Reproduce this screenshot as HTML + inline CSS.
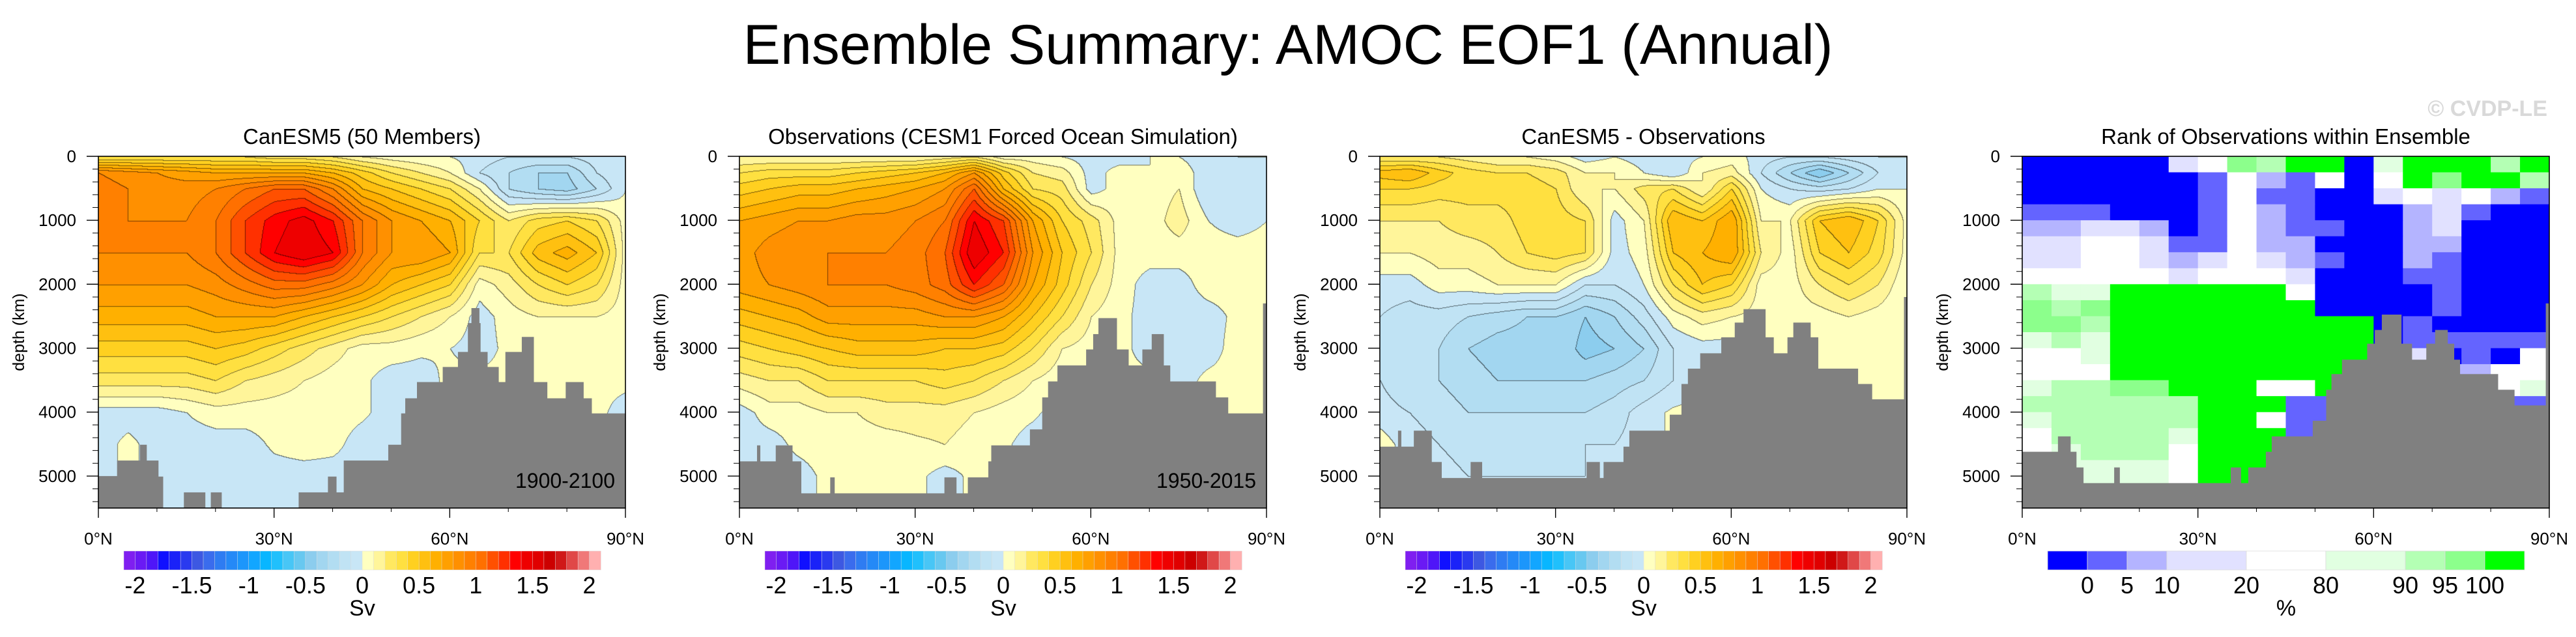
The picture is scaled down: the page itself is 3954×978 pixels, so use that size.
<!DOCTYPE html>
<html><head><meta charset="utf-8">
<style>
html,body{margin:0;padding:0;background:#fff;}
#root{position:relative;width:3954px;height:978px;overflow:hidden;font-family:"Liberation Sans",Arial,sans-serif;}
canvas{position:absolute;}
svg{position:absolute;left:0;top:0;}
</style></head>
<body>
<div id="root">
<canvas id="c0" width="809" height="540" style="left:151px;top:240px"></canvas>
<canvas id="c1" width="809" height="540" style="left:1135px;top:240px"></canvas>
<canvas id="c2" width="809" height="540" style="left:2118px;top:240px"></canvas>
<svg id="ov" width="3954" height="978" xmlns="http://www.w3.org/2000/svg">
<text x="1977" y="98" font-size="86" text-anchor="middle">Ensemble Summary: AMOC EOF1 (Annual)</text>
<text x="3910" y="178" font-size="34" font-weight="bold" fill="#d9d9d9" text-anchor="end">© CVDP-LE</text>
</svg>
</div>
<script>
// ---- grid axes ----
const lats = [0,5,10,15,20,25,30,35,40,45,50,55,60,65,70,75,80,85,90];
const depths = [0,250,500,1000,1500,2000,2500,3000,3500,4000,4500,5000,5500];
// ---- CanESM5 ensemble EOF1 (Sv) ----
const canesm = [
[0.3,0.3,0.3,0.3,0.3,0.3,0.25,0.25,0.2,0.1,0.05,0.02,0.0,-0.05,-0.1,-0.1,-0.1,-0.05,0.0],
[0.9,0.85,0.8,0.75,0.7,0.7,0.7,0.7,0.6,0.45,0.3,0.2,0.1,-0.1,-0.2,-0.3,-0.3,-0.1,0.0],
[0.95,0.9,0.85,0.85,0.9,1.0,1.1,1.1,0.9,0.6,0.5,0.4,0.3,0.1,-0.2,-0.3,-0.35,-0.2,0.0],
[0.9,0.9,0.9,0.9,1.0,1.2,1.35,1.45,1.3,1.0,0.8,0.7,0.6,0.4,0.2,0.35,0.4,0.3,0.05],
[0.9,0.9,0.9,0.9,1.0,1.2,1.4,1.5,1.4,1.0,0.8,0.8,0.7,0.3,0.3,0.55,0.65,0.5,0.05],
[0.8,0.8,0.8,0.8,0.85,0.95,1.05,1.05,0.95,0.8,0.6,0.5,0.4,0.05,0.15,0.3,0.4,0.3,0.05],
[0.65,0.65,0.65,0.65,0.7,0.7,0.7,0.6,0.5,0.4,0.3,0.2,0.1,-0.05,0.05,0.1,0.1,0.1,0.05],
[0.45,0.45,0.45,0.45,0.5,0.45,0.35,0.25,0.15,0.05,0.05,0.02,0.0,-0.05,0.03,0.05,0.05,0.05,0.05],
[0.25,0.25,0.25,0.25,0.3,0.2,0.15,0.1,0.05,0.02,-0.05,-0.05,0.03,0.03,0.03,0.03,0.03,0.03,0.03],
[-0.05,-0.05,-0.05,0.0,0.05,0.05,0.05,0.05,0.05,0.02,-0.05,-0.05,0.03,0.03,0.03,0.03,0.03,0.03,-0.05],
[-0.05,0.03,-0.05,-0.05,-0.05,-0.05,0.02,0.05,0.03,-0.05,-0.05,0.02,0.03,0.03,0.03,0.03,0.03,0.03,-0.05],
[-0.05,0.03,-0.05,-0.05,-0.05,-0.08,-0.05,-0.05,-0.05,-0.05,-0.05,0.02,0.03,0.03,0.03,0.03,0.03,0.03,-0.05],
[-0.05,0.03,-0.05,-0.05,-0.05,-0.08,-0.05,-0.05,-0.05,-0.05,-0.05,0.02,0.03,0.03,0.03,0.03,0.03,0.03,-0.05]];
// ---- Observations EOF1 (Sv) ----
const obs = [
[0.1,0.1,0.1,0.1,0.1,0.1,0.1,0.15,0.2,0.05,0.05,0.0,-0.05,-0.05,0.0,0.0,-0.05,0.0,0.0],
[0.3,0.35,0.35,0.35,0.4,0.45,0.5,0.6,0.8,0.45,0.2,0.15,-0.05,0.05,0.0,0.05,-0.05,-0.05,0.0],
[0.45,0.5,0.55,0.55,0.6,0.65,0.7,0.8,1.1,0.6,0.3,0.25,-0.05,0.05,0.05,0.1,-0.1,-0.1,0.0],
[0.7,0.75,0.8,0.8,0.85,0.85,0.9,1.0,1.4,1.2,0.7,0.4,0.25,0.05,0.05,0.15,0.0,-0.05,0.0],
[0.75,0.85,0.9,0.9,0.9,0.9,0.95,1.1,1.5,1.3,0.8,0.5,0.3,0.05,0.05,0.05,0.05,0.05,0.05],
[0.75,0.8,0.85,0.9,0.9,0.9,0.95,1.05,1.3,1.1,0.7,0.45,0.2,0.05,-0.05,-0.05,0.05,0.05,0.0],
[0.55,0.6,0.65,0.75,0.75,0.75,0.75,0.8,0.8,0.7,0.5,0.3,0.1,0.03,-0.05,-0.05,-0.05,0.03,0.0],
[0.35,0.4,0.45,0.5,0.55,0.55,0.55,0.5,0.5,0.45,0.3,0.1,0.05,0.03,-0.05,-0.05,-0.05,0.05,0.05],
[0.15,0.2,0.2,0.3,0.3,0.3,0.3,0.35,0.3,0.2,0.1,0.03,-0.05,0.03,0.03,-0.05,0.03,0.03,0.03],
[-0.05,0.05,0.05,0.1,0.1,0.15,0.15,0.15,0.1,0.05,0.02,-0.05,-0.05,0.03,0.03,0.03,0.03,0.03,0.03],
[-0.05,-0.05,0.03,0.05,0.05,0.05,0.08,0.1,0.05,0.02,-0.05,-0.05,-0.05,0.03,0.03,0.03,0.03,0.03,0.03],
[-0.05,-0.05,-0.05,0.03,0.03,0.03,0.03,-0.05,0.03,0.02,-0.05,-0.05,-0.05,0.03,0.03,0.03,0.03,0.03,0.03],
[-0.05,-0.05,-0.05,0.03,0.03,0.03,0.03,-0.05,0.03,0.02,-0.05,-0.05,-0.05,0.03,0.03,0.03,0.03,0.03,0.03]];
// ---- CanESM5 - Observations (Sv) ----
const diff = [
[0.2,0.2,0.2,0.15,0.1,0.1,0.05,-0.05,0.0,-0.05,-0.05,0.0,0.05,-0.05,-0.1,-0.1,-0.05,0.0,0.0],
[0.55,0.6,0.45,0.35,0.3,0.3,0.25,0.1,0.1,0.0,-0.1,0.1,0.15,-0.1,-0.3,-0.5,-0.3,-0.1,0.0],
[0.4,0.4,0.35,0.35,0.35,0.35,0.3,0.1,0.1,0.25,0.3,0.1,0.4,0.0,-0.1,-0.15,-0.1,0.0,0.0],
[0.2,0.2,0.2,0.25,0.25,0.35,0.35,0.3,-0.05,0.1,0.6,0.5,0.7,0.1,0.1,0.5,0.6,0.4,0.05],
[0.1,0.1,0.15,0.15,0.2,0.3,0.35,0.3,-0.05,0.05,0.5,0.6,0.7,0.2,0.05,0.4,0.5,0.35,0.05],
[-0.05,-0.05,0.05,0.05,0.1,0.1,0.1,-0.1,-0.1,0.0,0.3,0.5,0.4,0.05,0.05,0.2,0.3,0.2,0.0],
[-0.1,-0.15,-0.15,-0.2,-0.25,-0.3,-0.3,-0.4,-0.3,-0.15,0.05,0.15,0.1,0.05,0.05,0.05,0.1,0.05,0.0],
[-0.15,-0.2,-0.2,-0.3,-0.35,-0.35,-0.3,-0.45,-0.4,-0.3,-0.1,-0.05,-0.05,0.05,0.05,0.05,0.05,0.05,0.0],
[-0.1,-0.2,-0.2,-0.25,-0.3,-0.3,-0.3,-0.3,-0.25,-0.2,-0.1,-0.05,-0.05,0.05,0.05,0.05,0.05,0.03,0.0],
[-0.05,-0.1,-0.15,-0.2,-0.2,-0.2,-0.2,-0.2,-0.15,-0.05,0.02,0.05,0.05,0.05,0.05,0.05,0.05,0.03,0.0],
[0.05,-0.05,-0.1,-0.15,-0.15,-0.15,-0.15,-0.1,-0.1,-0.05,0.02,0.03,0.03,0.03,0.03,0.03,0.03,0.03,0.0],
[0.05,-0.05,-0.05,-0.1,-0.1,-0.1,-0.1,-0.1,-0.05,-0.05,0.02,0.03,0.03,0.03,0.03,0.03,0.03,0.03,0.0],
[0.05,-0.05,-0.05,-0.1,-0.1,-0.1,-0.1,-0.1,-0.05,-0.05,0.02,0.03,0.03,0.03,0.03,0.03,0.03,0.03,0.0]];
// ---- rank classes (0..8) per 5deg x 250m cell ----
const rankLatStep = 5, rankDepthStep = 250;
const rank = [
[0,0,0,0,0,3,4,7,6,8,8,0,5,8,8,8,6,8],
[0,0,0,0,0,0,1,4,2,1,4,0,4,8,7,8,8,6],
[0,0,0,0,0,0,1,4,1,1,0,0,3,4,3,4,2,1],
[1,1,1,0,0,0,1,4,2,1,0,0,0,2,3,1,0,0],
[2,2,3,3,2,0,1,4,2,1,1,0,0,2,3,0,0,0],
[3,3,4,4,3,1,1,4,2,2,0,0,0,2,2,0,0,0],
[3,3,4,4,3,2,3,4,3,2,1,0,0,2,1,0,0,0],
[4,4,4,4,4,3,4,4,4,3,0,0,0,1,1,0,0,0],
[6,5,5,8,8,8,8,8,8,4,0,0,0,0,1,0,0,0],
[7,6,7,8,8,8,8,8,8,8,0,0,0,0,1,0,0,0],
[7,7,6,8,8,8,8,8,8,8,8,8,0,1,0,0,0,0],
[5,6,5,8,8,8,8,8,8,8,8,8,0,1,1,1,1,1],
[4,4,5,8,8,8,8,8,8,8,8,8,0,3,0,1,0,4],
[4,4,4,8,8,8,8,8,8,8,8,8,8,8,2,2,4,4],
[5,6,6,7,7,8,8,8,4,4,8,8,8,8,8,8,4,5],
[6,6,6,6,6,6,8,8,8,1,1,1,1,1,1,1,1,1],
[5,6,6,6,6,6,8,8,4,1,1,1,1,1,1,1,1,1],
[4,6,6,6,6,5,8,8,8,1,1,1,1,1,1,1,1,1],
[4,5,6,6,6,4,8,8,8,1,1,1,1,1,1,1,1,1],
[4,5,5,5,5,4,8,8,8,1,1,1,1,1,1,1,1,1],
[4,4,5,5,5,4,8,8,8,1,1,1,1,1,1,1,1,1],
[4,4,5,5,5,4,8,8,8,1,1,1,1,1,1,1,1,1]];
// ---- bathymetry (lat edges, top depth m) ----
const bathyLat1 = [0,3.2,7.1,8.2,10.2,11.0,14.6,18.2,19.2,21.0,34.2,39.2,40.6,41.9,49.5,51.7,52.4,54.4,58.8,61.4,63.1,63.7,65.0,65.2,66.4,68.3,69.5,72.3,74.3,76.6,79.8,82.8,84.2,90];
const bathyDep1 = [5000,4757,4510,4757,5008,5500,5255,5500,5255,5500,5255,5008,5255,4757,4510,4020,3784,3530,3294,3059,2608,2373,2608,3059,3294,3530,3059,2824,3530,3784,3530,3784,4020];
const bathyLat2 = [0,3,3.5,6.2,9,10.5,15.5,16.2,35,37,39,42.5,43,49.6,51.7,52.7,54.3,59.2,60.4,61.3,64.4,66.4,68.8,70.4,72.4,73.5,81.3,83.4,89.4,90];
const bathyDep2 = [4770,4520,4770,4520,4770,5270,5020,5270,5020,5270,5020,4770,4520,4270,3770,3520,3270,3020,2780,2530,3020,3270,3020,2780,3270,3520,3770,4020,2300];
const bathyLat3 = [0,3.1,3.6,5.8,8.8,10.5,15.5,17.4,35.3,37.5,38.2,41.6,42.6,49.5,51.5,52.6,54.7,58.3,60.6,62.1,65.8,67.2,69.6,70.6,73.5,74.8,81.6,84,89.5,90];
const bathyDep3 = [4540,4290,4540,4290,4780,5030,4780,5030,4780,5030,4780,4540,4290,4040,3560,3320,3080,2830,2600,2390,2830,3080,2830,2600,2830,3320,3560,3800,2200];
const bathyLat4 = [0,6.1,8.2,9.2,10.4,15.7,16.6,35.6,37.3,38.6,41.6,42.6,49.6,51.9,52.8,54.6,58.9,60.2,61.4,64.7,66.5,69.0,70.5,72.6,73.7,74.7,81.2,84.0,89.4,90];
const bathyDep4 = [4620,4380,4620,4865,5110,4865,5110,4865,5110,4865,4620,4380,4135,3650,3405,3180,2930,2715,2475,2930,3180,2930,2715,2930,3180,3405,3650,3895,2300];
// ---- colour scales / labels ----
const svColors = ["#7f1ff0","#6a1af4","#4f16f8","#1010ff","#1a22f8","#2a3aef","#3d58e2","#3a6ced","#2e7cf2","#2489f7","#1c96fb","#12a6ff","#08b6ff","#20c0fc","#48c6f6","#68c8f0","#8ccdee","#a2d6f0","#b2ddf2","#c0e3f4","#c8e6f6",
"#ffffc0","#fff59a","#ffe860","#ffe040","#ffd020","#ffc010","#ffb000","#ffa000","#ff9000","#ff8000","#ff7000","#ff5000","#ff3000","#ff0000","#ee0000","#e00000","#cc0000","#d01818","#e04848","#f07878","#ffb0b0"];
const svTickLabels = ["-2","-1.5","-1","-0.5","0","0.5","1","1.5","2"];
const rankColors = ["#0000ff","#6464ff","#b4b4ff","#e1e1ff","#ffffff","#e1ffe1","#b4ffb4","#8cff8c","#00ff00"];
const rankBoxUnits = [1,1,1,2,2,2,1,1,1];
const rankTickLabels = ["0","5","10","20","80","90","95","100"];
const latTickLabels = ["0°N","30°N","60°N","90°N"];
const depthTickLabels = ["0","1000","2000","3000","4000","5000"];
const panelTitles = ["CanESM5 (50 Members)","Observations (CESM1 Forced Ocean Simulation)","CanESM5 - Observations","Rank of Observations within Ensemble"];

const NS="http://www.w3.org/2000/svg";
const ov=document.getElementById('ov');
const PX=[151,1135,2118,3104], TOP=240, W=809, H=540, DMAX=5500;
function xs(p,lat){return PX[p]+lat/90*W;}
function ys(d){return TOP+d/DMAX*H;}
function mk(tag,attrs,parent){const e=document.createElementNS(NS,tag);for(const k in attrs)e.setAttribute(k,attrs[k]);(parent||ov).appendChild(e);return e;}
function hex(c){return [parseInt(c.substr(1,2),16),parseInt(c.substr(3,2),16),parseInt(c.substr(5,2),16)];}
const svRGB=svColors.map(hex);
function idxOf(arr,v){let i=0;while(i<arr.length-2&&v>arr[i+1])i++;return i;}
function sample(grid,lat,d){
  const i=idxOf(lats,lat), j=idxOf(depths,d);
  const tx=Math.min(1,Math.max(0,(lat-lats[i])/(lats[i+1]-lats[i])));
  const ty=Math.min(1,Math.max(0,(d-depths[j])/(depths[j+1]-depths[j])));
  const a=grid[j][i],b=grid[j][i+1],c=grid[j+1][i],e=grid[j+1][i+1];
  return (a*(1-tx)+b*tx)*(1-ty)+(c*(1-tx)+e*tx)*ty;
}
function level(v){let k=Math.floor(v/0.1+1e-9)+21;return Math.max(0,Math.min(41,k));}
function drawField(id,grid){
  const cv=document.getElementById(id),ctx=cv.getContext('2d');
  const img=ctx.createImageData(W,H),lv=new Int16Array(W*H);
  for(let y=0;y<H;y++){const d=y/H*DMAX;for(let x=0;x<W;x++){lv[y*W+x]=level(sample(grid,x/W*90,d));}}
  for(let y=0;y<H;y++)for(let x=0;x<W;x++){
    const k=lv[y*W+x];let c=svRGB[k];const o=(y*W+x)*4;
    let edge=(x>0&&lv[y*W+x-1]!==k)||(y>0&&lv[(y-1)*W+x]!==k);
    const f=edge?0.45:1;
    img.data[o]=c[0]*f;img.data[o+1]=c[1]*f;img.data[o+2]=c[2]*f;img.data[o+3]=255;
  }
  ctx.putImageData(img,0,0);
}
drawField('c0',canesm);drawField('c1',obs);drawField('c2',diff);

// rank panel cells
for(let r=0;r<rank.length;r++){for(let c=0;c<rank[r].length;c++){
  const d0=r*rankDepthStep,l0=c*rankLatStep;
  const x0=xs(3,l0),x1=xs(3,Math.min(90,l0+rankLatStep)),y0=ys(d0),y1=ys(Math.min(DMAX,d0+rankDepthStep));
  const el=mk('rect',{x:x0,y:y0,width:x1-x0+0.5,height:y1-y0+0.5,fill:rankColors[rank[r][c]]});
  
  
}}

// bathymetry
const bathyL=[bathyLat1,bathyLat2,bathyLat3,bathyLat4], bathyD=[bathyDep1,bathyDep2,bathyDep3,bathyDep4];
for(let p=0;p<4;p++){
  const g=mk('g',{});
  
  
  for(let i=0;i<bathyD[p].length;i++){
    if(bathyD[p][i]>=DMAX)continue;
    const x0=xs(p,bathyL[p][i]),x1=xs(p,bathyL[p][i+1]);
    const el=mk('rect',{x:x0,y:ys(bathyD[p][i]),width:x1-x0+0.6,height:ys(DMAX)-ys(bathyD[p][i]),fill:'#808080'},g);
    
    
  }
}

// axes, titles
const periods=["1900-2100","1950-2015",null,null];
for(let p=0;p<4;p++){
  const fr=mk('rect',{x:PX[p],y:TOP,width:W,height:H,fill:'none',stroke:'#000','stroke-width':1.6});
  
  
  const t=mk('text',{x:PX[p]+W/2,y:221,'font-size':33,'text-anchor':'middle'});t.textContent=panelTitles[p];
  
  
  // y ticks
  for(let d=0;d<=DMAX;d+=200){const maj=d%1000===0;
    const tk=mk('line',{x1:PX[p],x2:PX[p]-(maj?18:9),y1:ys(d),y2:ys(d),stroke:'#000','stroke-width':maj?1.4:1});
    
    }
  depthTickLabels.forEach((s,i)=>{const el=mk('text',{x:PX[p]-34,y:ys(i*1000)+9,'font-size':26,'text-anchor':'end'});el.textContent=s;
    
    });
  const yl=mk('text',{x:0,y:0,'font-size':25,'text-anchor':'middle',transform:`translate(${PX[p]-114},510) rotate(-90)`});yl.textContent='depth (km)';
  
  
  // x ticks
  for(let l=0;l<=90;l+=10){const maj=l%30===0;
    const tk=mk('line',{x1:xs(p,l),x2:xs(p,l),y1:TOP+H,y2:TOP+H+(maj?15:6),stroke:'#000','stroke-width':maj?1.4:1});
    
    }
  latTickLabels.forEach((s,i)=>{const el=mk('text',{x:xs(p,i*30),y:836,'font-size':26,'text-anchor':'middle'});el.textContent=s;
    
    });
  if(periods[p]){const el=mk('text',{x:PX[p]+W-16,y:749,'font-size':32,'text-anchor':'end'});el.textContent=periods[p];
    
    }
}
// Sv colorbars
const CBX0=39, CBW=732, CBY=846, CBH=29;
for(let p=0;p<3;p++){
  const x0=PX[p]+CBX0,bw=CBW/svColors.length;
  svColors.forEach((c,i)=>{const el=mk('rect',{x:x0+i*bw,y:CBY,width:bw+0.4,height:CBH,fill:c,stroke:'#ddd','stroke-width':0.5});
    
    });
  svTickLabels.forEach((s,i)=>{const el=mk('text',{x:x0+(1+i*5)*bw,y:911,'font-size':36,'text-anchor':'middle'});el.textContent=s;
    
    });
  const u=mk('text',{x:x0+21*bw,y:945,'font-size':34,'text-anchor':'middle'});u.textContent='Sv';
  
  
}
// rank colorbar
{const x0=PX[3]+CBX0,unit=CBW/rankBoxUnits.reduce((a,b)=>a+b,0);let cx=x0;const bounds=[];
 rankColors.forEach((c,i)=>{const w=rankBoxUnits[i]*unit;const el=mk('rect',{x:cx,y:CBY,width:w,height:CBH,fill:c,stroke:'#ddd','stroke-width':0.8});
   
   cx+=w;bounds.push(cx);});
 rankTickLabels.forEach((s,i)=>{const el=mk('text',{x:bounds[i],y:911,'font-size':36,'text-anchor':'middle'});el.textContent=s;
   
   });
 const u=mk('text',{x:x0+CBW/2,y:945,'font-size':34,'text-anchor':'middle'});u.textContent='%';
 
 }
</script>
</body></html>
